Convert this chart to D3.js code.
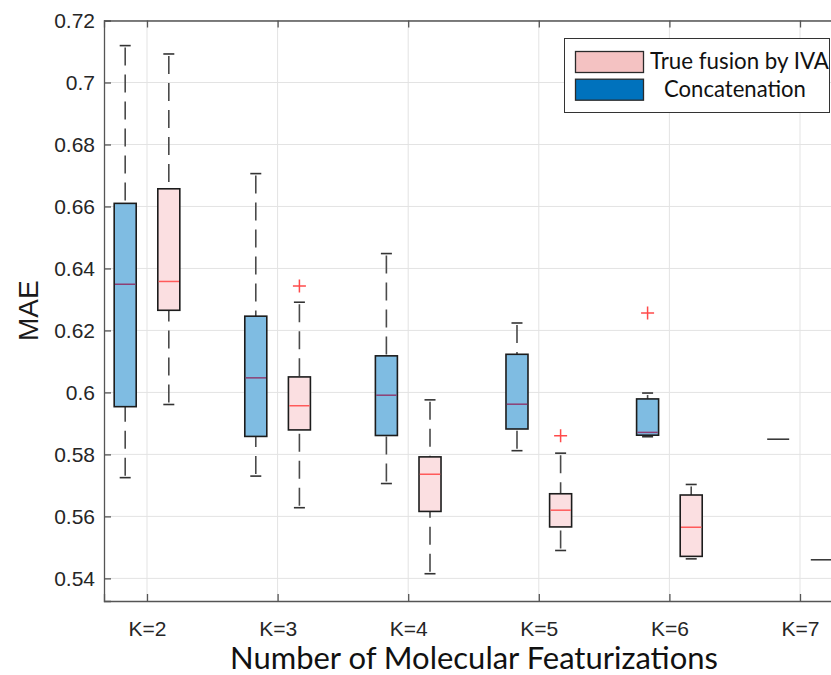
<!DOCTYPE html>
<html>
<head>
<meta charset="utf-8">
<script src="https://cdn.jsdelivr.net/npm/d3@7"></script>
<style>
  html, body { margin: 0; padding: 0; background: #fff; }
  svg { display: block; }
</style>
</head>
<body>
<svg id="chart" width="831" height="675"></svg>
<script>
// ---------- data ----------
const categories = ["K=2", "K=3", "K=4", "K=5", "K=6", "K=7"];
const kValues = [2, 3, 4, 5, 6, 7];
const yTicks = [0.54, 0.56, 0.58, 0.6, 0.62, 0.64, 0.66, 0.68, 0.7, 0.72];
const yTickLabels = ["0.54", "0.56", "0.58", "0.6", "0.62", "0.64", "0.66", "0.68", "0.7", "0.72"];
const legendLabels = ["True fusion by IVA", "Concatenation"];

// Concatenation (blue)
const concLow  = [0.5725, 0.5730, 0.5706, 0.5812, 0.5857, 0.5849];
const concQ1   = [0.5954, 0.5858, 0.5861, 0.5882, 0.5862, 0.5849];
const concMed  = [0.6349, 0.6047, 0.5991, 0.5962, 0.5871, 0.5849];
const concQ3   = [0.6610, 0.6246, 0.6118, 0.6123, 0.5979, 0.5849];
const concHigh = [0.7119, 0.6706, 0.6448, 0.6224, 0.5998, 0.5849];
const concOut  = [[], [], [], [], [0.6256], []];

// True fusion by IVA (pink)
const ivaLow  = [0.5961, 0.5628, 0.5415, 0.5490, 0.5463, 0.5460];
const ivaQ1   = [0.6265, 0.5879, 0.5616, 0.5566, 0.5471, 0.5460];
const ivaMed  = [0.6358, 0.5957, 0.5736, 0.5620, 0.5565, 0.5460];
const ivaQ3   = [0.6657, 0.6050, 0.5792, 0.5673, 0.5669, 0.5460];
const ivaHigh = [0.7092, 0.6291, 0.5976, 0.5804, 0.5703, 0.5460];
const ivaOut  = [[], [0.6343], [], [0.5860], [], []];

// ---------- layout ----------
const svg = d3.select("#chart");
const pL = 104, pR = 843, pT = 20.5, pB = 601;
const pad = 43 / 130.6;
const x = d3.scaleLinear().domain([2 - pad, 7 + pad]).range([pL, pR]);
const y = d3.scaleLinear().domain([0.5327, 0.72]).range([pB, pT]);
const unit = x(3) - x(2);
const boxW = 0.1685 * unit;
const offs = 0.167;

const series = [
  { name: "Concatenation", off: -offs, low: concLow, q1: concQ1, med: concMed, q3: concQ3, high: concHigh, out: concOut,
    fill: "#7fbce2", medColor: "#8e3e73", legendFill: "#0072bd" },
  { name: "True fusion by IVA", off: offs, low: ivaLow, q1: ivaQ1, med: ivaMed, q3: ivaQ3, high: ivaHigh, out: ivaOut,
    fill: "#fbdfe1", medColor: "#ff5a5a", legendFill: "#f4c2c2" }
];

const tickFont = "'Liberation Sans', Arial, Helvetica, sans-serif";
const titleFont = "Lato, 'Open Sans', sans-serif";

// ---------- grid ----------
const grid = svg.append("g");
grid.selectAll("line.gy").data(yTicks).join("line")
  .attr("x1", pL).attr("x2", pR)
  .attr("y1", d => y(d)).attr("y2", d => y(d))
  .attr("stroke", "#e3e3e3").attr("stroke-width", 1);
grid.selectAll("line.gx").data(kValues).join("line")
  .attr("x1", d => x(d)).attr("x2", d => x(d))
  .attr("y1", pT).attr("y2", pB)
  .attr("stroke", "#e3e3e3").attr("stroke-width", 1);

// ---------- boxes ----------
const plot = svg.append("g");
series.forEach(s => {
  kValues.forEach((k, i) => {
    const cx = x(k + s.off);
    const g = plot.append("g");
    const degenerate = s.low[i] === s.high[i];
    if (degenerate) {
      g.append("line")
        .attr("x1", cx - boxW / 2).attr("x2", cx + boxW / 2)
        .attr("y1", y(s.med[i])).attr("y2", y(s.med[i]))
        .attr("stroke", "#3a3a3a").attr("stroke-width", 1.6);
      return;
    }
    // whiskers (dashed)
    g.append("line")
      .attr("x1", cx).attr("x2", cx)
      .attr("y1", y(s.high[i]) + 2).attr("y2", y(s.q3[i]))
      .attr("stroke", "#4a4a4a").attr("stroke-width", 1.6)
      .attr("stroke-dasharray", "18,9");
    g.append("line")
      .attr("x1", cx).attr("x2", cx)
      .attr("y1", y(s.low[i]) - 2).attr("y2", y(s.q1[i]))
      .attr("stroke", "#4a4a4a").attr("stroke-width", 1.6)
      .attr("stroke-dasharray", "18,9");
    // caps
    [s.high[i], s.low[i]].forEach(v => {
      g.append("line")
        .attr("x1", cx - boxW / 4).attr("x2", cx + boxW / 4)
        .attr("y1", y(v)).attr("y2", y(v))
        .attr("stroke", "#333").attr("stroke-width", 1.6);
    });
    // box
    g.append("rect")
      .attr("x", cx - boxW / 2).attr("width", boxW)
      .attr("y", y(s.q3[i])).attr("height", y(s.q1[i]) - y(s.q3[i]))
      .attr("fill", s.fill).attr("stroke", "#1c1c1c").attr("stroke-width", 1.6);
    // median
    g.append("line")
      .attr("x1", cx - boxW / 2 + 0.8).attr("x2", cx + boxW / 2 - 0.8)
      .attr("y1", y(s.med[i])).attr("y2", y(s.med[i]))
      .attr("stroke", s.medColor).attr("stroke-width", 1.5);
    // outliers
    s.out[i].forEach(v => {
      const oy = y(v), h = 6.5;
      g.append("path")
        .attr("d", `M${cx - h},${oy}H${cx + h}M${cx},${oy - h}V${oy + h}`)
        .attr("stroke", "#ff2a2a").attr("stroke-width", 1.5).attr("fill", "none")
        .attr("opacity", 0.85);
    });
  });
});

// ---------- axes ----------
const axisColor = "#555";
const yAxis = svg.append("g").attr("transform", `translate(${pL},0)`)
  .call(d3.axisLeft(y).tickValues(yTicks).tickFormat((d, i) => yTickLabels[i]).tickSize(-7).tickPadding(9));
const xAxis = svg.append("g").attr("transform", `translate(0,${pB})`)
  .call(d3.axisBottom(x).tickValues(kValues).tickFormat((d, i) => categories[i]).tickSize(-7).tickPadding(20));
const topAxis = svg.append("g").attr("transform", `translate(0,${pT})`)
  .call(d3.axisTop(x).tickValues(kValues).tickFormat("").tickSize(-7));
const rightAxis = svg.append("g").attr("transform", `translate(${pR},0)`)
  .call(d3.axisRight(y).tickValues(yTicks).tickFormat("").tickSize(-7));
[yAxis, xAxis, topAxis, rightAxis].forEach(a => {
  a.selectAll("path.domain").attr("stroke", axisColor).attr("stroke-width", 1.3);
  a.selectAll(".tick line").attr("stroke", axisColor).attr("stroke-width", 1.3);
  a.selectAll("text").attr("fill", "#262626").style("font-family", tickFont).style("font-size", "21px");
});

// axis titles
svg.append("text")
  .attr("transform", `translate(38,${(pT + pB) / 2}) rotate(-90)`)
  .attr("text-anchor", "middle")
  .style("font-family", tickFont).style("font-size", "28px").attr("fill", "#1a1a1a")
  .text("MAE");

function fitText(sel, targetW, baseSize) {
  sel.style("font-size", baseSize + "px");
  const w = sel.node().getComputedTextLength();
  sel.style("font-size", (baseSize * targetW / w).toFixed(2) + "px");
}

const xt = svg.append("text")
  .attr("x", (228 + 720) / 2).attr("y", 669)
  .attr("text-anchor", "middle")
  .style("font-family", titleFont).attr("fill", "#111")
  .text("Number of Molecular Featurizations");
fitText(xt, 488, 26);

// ---------- legend ----------
const lg = svg.append("g");
lg.append("rect").attr("x", 564.5).attr("y", 38.5).attr("width", 265).attr("height", 74)
  .attr("fill", "#fff").attr("stroke", "#333").attr("stroke-width", 1);
const legendSeries = [series[1], series[0]];
const legendStarts = [650, 664];
const legendWidths = [179, 142];
legendSeries.forEach((s, i) => {
  const yy = 51.5 + i * 27.7;
  lg.append("rect").attr("x", 575.5).attr("y", yy).attr("width", 68).attr("height", 21)
    .attr("fill", s.legendFill).attr("stroke", "#2a2a2a").attr("stroke-width", 1.3);
  const t = lg.append("text").attr("x", legendStarts[i]).attr("y", yy + 17.5)
    .style("font-family", titleFont).attr("fill", "#111")
    .text(legendLabels[i]);
  fitText(t, legendWidths[i], 20);
});
</script>
</body>
</html>
